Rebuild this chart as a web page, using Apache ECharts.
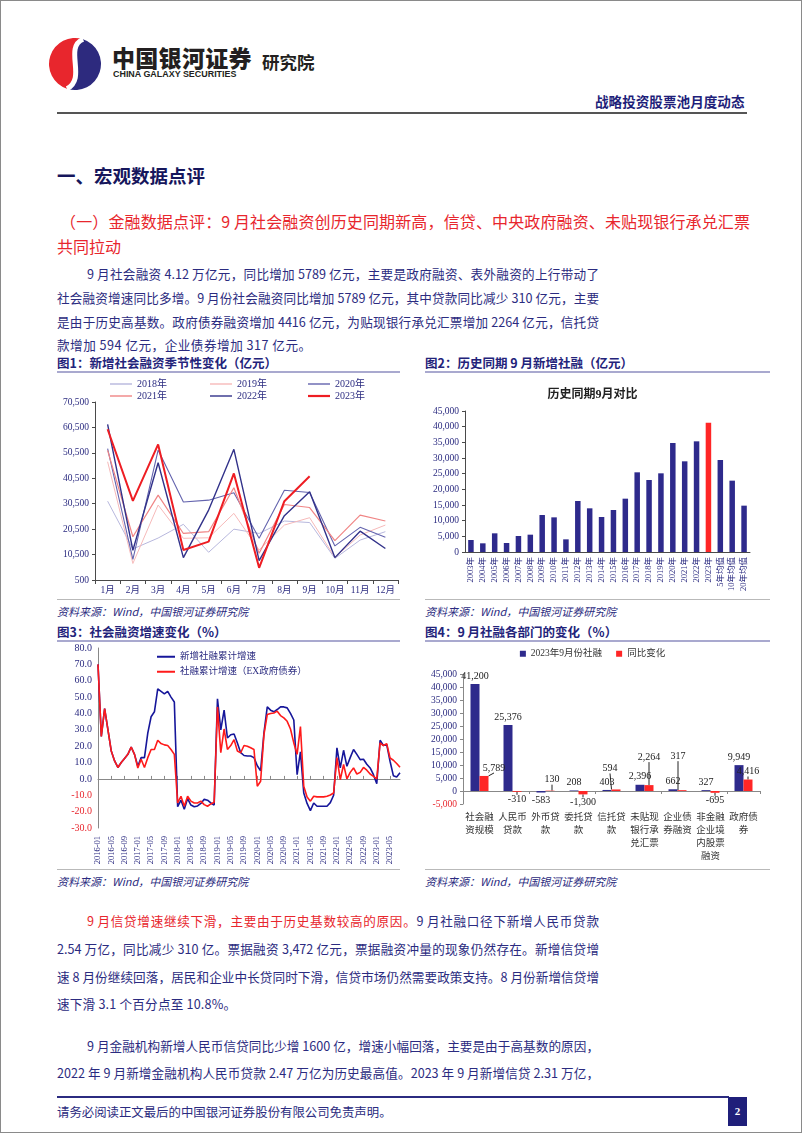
<!DOCTYPE html>
<html><head><meta charset="utf-8">
<script src="https://cdn.jsdelivr.net/npm/echarts/dist/echarts.min.js"></script>
<style>
body{margin:0;background:#fff;}
#page{position:relative;width:802px;height:1133px;overflow:hidden;font-family:"Noto Sans CJK SC","Noto Sans",sans-serif;background:#fff;}
#frame{position:absolute;left:0;top:0;width:800px;height:1131px;border:1px solid #8a8a8a;pointer-events:none;z-index:5;}
.abs{position:absolute;white-space:nowrap;}
.jl{position:absolute;white-space:nowrap;text-align:justify;text-align-last:justify;line-height:20px;height:20px;}
.body{font-size:12.6px;color:#2b2b80;}
.last{letter-spacing:0.5px;}
.figt{font-size:12.5px;font-weight:bold;color:#23237a;line-height:16px;}
.uline{position:absolute;height:2px;background:#a9a9cf;}
.src{font-size:11px;font-style:italic;color:#2b2b80;line-height:14px;}
.sline{position:absolute;height:1px;background:#b9b9b9;}
.chart{position:absolute;}
</style></head>
<body><div id="page">
<div id="frame"></div>

<!-- header -->
<svg class="abs" style="left:44px;top:34px" width="62" height="60" viewBox="0 0 60 60">
 <g transform="rotate(18 30 30)">
  <path d="M30,4 A26,26 0 0 0 30,56 C46,40 14,18 30,4 Z" fill="#e8262d"/>
  <path d="M30,4 A26,26 0 0 1 30,56 C46,40 14,18 30,4 Z" fill="#2d2a7e"/>
  <path d="M30,4 C14,18 46,40 30,56" stroke="#fff" stroke-width="5" fill="none"/>
 </g>
</svg>
<div class="abs" style="left:112px;top:44px;font-size:23px;font-weight:900;color:#231f20;line-height:26px;letter-spacing:0.3px">中国银河证券</div>
<div class="abs" style="left:113px;top:68px;font-size:9.6px;font-weight:bold;color:#231f20;line-height:11px;font-family:'Liberation Sans Narrow','Liberation Sans',sans-serif;transform:scaleX(0.93);transform-origin:left">CHINA GALAXY SECURITIES</div>
<div class="abs" style="left:262px;top:52px;font-size:17.5px;font-weight:bold;color:#231f20;line-height:20px">研究院</div>
<div class="abs" style="left:595px;top:93px;font-size:13.6px;font-weight:bold;color:#1f1f7a;line-height:16px">战略投资股票池月度动态</div>
<div class="abs" style="left:57px;top:112px;width:690px;height:2px;background:#555"></div>

<div class="abs" style="left:57px;top:164px;font-size:18.5px;font-weight:bold;color:#16165c;line-height:22px">一、宏观数据点评</div>
<div class="jl" style="left:60px;top:210px;width:690px;font-size:16px;color:#e8262d;line-height:22px;height:22px">（一）金融数据点评：9 月社会融资创历史同期新高，信贷、中央政府融资、未贴现银行承兑汇票</div>
<div class="abs" style="left:57px;top:235px;font-size:16px;color:#e8262d;line-height:22px">共同拉动</div>

<div class="jl body" style="left:87px;top:264px;width:512px">9 月社会融资 4.12 万亿元，同比增加 5789 亿元，主要是政府融资、表外融资的上行带动了</div>
<div class="jl body" style="left:57px;top:288px;width:542px">社会融资增速同比多增。9 月份社会融资同比增加 5789 亿元，其中贷款同比减少 310 亿元，主要</div>
<div class="jl body" style="left:57px;top:312px;width:542px">是由于历史高基数。政府债券融资增加 4416 亿元，为贴现银行承兑汇票增加 2264 亿元，信托贷</div>
<div class="abs body last" style="left:57px;top:335px;line-height:20px">款增加 594 亿元，企业债券增加 317 亿元。</div>

<!-- figure titles -->
<div class="abs figt" style="left:57px;top:355px">图1：新增社会融资季节性变化（亿元）</div>
<div class="uline" style="left:57px;top:371px;width:343px"></div>
<div class="abs figt" style="left:425px;top:355px">图2：历史同期 9 月新增社融（亿元）</div>
<div class="uline" style="left:425px;top:371px;width:345px"></div>

<div class="sline" style="left:57px;top:599px;width:343px"></div>
<div class="sline" style="left:425px;top:599px;width:345px"></div>
<div class="abs src" style="left:57px;top:604px">资料来源：Wind，中国银河证券研究院</div>
<div class="abs src" style="left:425px;top:604px">资料来源：Wind，中国银河证券研究院</div>

<div class="abs figt" style="left:57px;top:624px">图3：社会融资增速变化（%）</div>
<div class="uline" style="left:57px;top:640px;width:343px"></div>
<div class="abs figt" style="left:425px;top:624px">图4：9 月社融各部门的变化（%）</div>
<div class="uline" style="left:425px;top:640px;width:345px"></div>

<div class="sline" style="left:57px;top:869px;width:343px"></div>
<div class="sline" style="left:425px;top:869px;width:345px"></div>
<div class="abs src" style="left:57px;top:874px">资料来源：Wind，中国银河证券研究院</div>
<div class="abs src" style="left:425px;top:874px">资料来源：Wind，中国银河证券研究院</div>

<!-- charts -->
<div id="c1" class="chart" style="left:57px;top:375px;width:345px;height:225px"></div>
<div id="c2" class="chart" style="left:420px;top:375px;width:345px;height:225px"></div>
<div id="c3" class="chart" style="left:57px;top:636px;width:345px;height:240px"></div>
<div id="c4" class="chart" style="left:420px;top:644px;width:345px;height:232px"></div>

<!-- lower text -->
<div class="jl body" style="left:87px;top:911px;width:512px"><span style="color:#e8262d">9 月信贷增速继续下滑，主要由于历史基数较高的原因。</span>9 月社融口径下新增人民币贷款</div>
<div class="jl body" style="left:57px;top:939px;width:542px">2.54 万亿，同比减少 310 亿。票据融资 3,472 亿元，票据融资冲量的现象仍然存在。新增信贷增</div>
<div class="jl body" style="left:57px;top:967px;width:542px">速 8 月份继续回落，居民和企业中长贷同时下滑，信贷市场仍然需要政策支持。8 月份新增信贷增</div>
<div class="abs body" style="left:57px;top:994px;line-height:20px;letter-spacing:0.2px">速下滑 3.1 个百分点至 10.8%。</div>
<div class="jl body" style="left:87px;top:1036px;width:512px">9 月金融机构新增人民币信贷同比少增 1600 亿，增速小幅回落，主要是由于高基数的原因，</div>
<div class="jl body" style="left:57px;top:1063px;width:542px">2022 年 9 月新增金融机构人民币贷款 2.47 万亿为历史最高值。2023 年 9 月新增信贷 2.31 万亿，</div>

<div class="abs" style="left:57px;top:1096px;width:672px;height:2px;background:#2b2b80"></div>
<div class="abs" style="left:57px;top:1103px;font-size:12.4px;color:#2b2b80;line-height:18px">请务必阅读正文最后的中国银河证券股份有限公司免责声明。</div>
<div class="abs" style="left:728px;top:1097px;width:19px;height:29px;background:#1f1f7a;color:#fff;font-family:'Liberation Serif',serif;font-weight:bold;font-size:11px;line-height:29px;text-align:center">2</div>
</div>

<script>
// ---------------- data ----------------
const months = ['1月','2月','3月','4月','5月','6月','7月','8月','9月','10月','11月','12月'];
const y2018 = [31500,12700,17000,22400,11400,20500,18800,23700,23100,9000,16200,19500];
const y2019 = [47000,7000,30000,16900,17100,26700,12300,22100,25000,9400,18200,22100];
const y2020 = [52200,8600,51600,31200,31900,34800,16900,35800,34900,13900,21200,17300];
const y2021 = [51500,17500,33900,18800,19500,36800,11000,30200,29000,16000,26000,23700];
const y2022 = [61700,12200,46600,9300,28000,51900,8100,25800,35200,9300,19700,12900];
const y2023 = [59800,31600,53800,12300,15600,42400,5300,31500,41300];

const histCats = ['2003年','2004年','2005年','2006年','2007年','2008年','2009年','2010年','2011年','2012年','2013年','2014年','2015年','2016年','2017年','2018年','2019年','2020年','2021年','2022年','2023年','5年均值','10年均值','20年均值'];
const histVals = [3830,2770,5960,2870,5110,5530,11800,11060,4040,16280,13940,11170,13400,17020,25430,22980,25110,34790,28940,35320,41280,29360,22770,14790];

const growthStartYear = 2016;
const growthNew = [
 70,26,43,30,17,11,7,10,12.5,15,19.5,15,
 7.7,13,13,28,38,41,55,53.5,52,53.5,50,47,
 -17,-13,-18.5,-12,-16,-17,-16.5,-15,-12.5,-13,-14.7,-16,
 49,30,42,25,27,27.5,22,16,14.3,14,14,13,
 8,5,28,44,42,41,42.4,44,44,43.4,40,36,
 2.6,16.5,-8.6,-15,-19.4,-14.7,-16.7,-16.7,-16.7,-16.7,-14.5,-10,
 19,6.7,17.5,7.7,13,18,15,11.8,12,9,6.7,2.6,
 -2.9,23.6,20.4,21,10.8,2,1.2,3.7];
const growthEx = [
 70,26,43,30,17,11,7,10,12.5,15,19.5,15,
 6.7,12,7,13,18,18,23.6,21.6,20.8,20.4,18,15,
 -14.7,-10.6,-16.7,-10.6,-13.6,-14.7,-14.7,-13.6,-15.7,-16.7,-15.3,-14.3,
 44,16,30.5,18,20.4,24,17,16,20.4,20,19,18,
 -4.5,-1.4,27,39.3,40,40.3,41.4,38.7,37.3,35.2,30.5,22,
 15,32,-4.5,-11,-13.6,-10.6,-11,-11,-11,-10.6,-9.8,-8.6,
 13,-0.5,8.8,0,4,6.7,3,4,7,5.3,3,1.6,
 0,22,20.4,21.6,12.8,11.4,9.4,7.1];

const secCats = ['社会融\n资规模','人民币\n贷款','外币贷\n款','委托贷\n款','信托贷\n款','未贴现\n银行承\n兑汇票','企业债\n券融资','非金融\n企业境\n内股票\n融资','政府债\n券'];
const sec2023 = [41200,25376,-583,208,403,2396,662,327,9949];
const secYoy = [5789,-310,130,-1300,594,2264,317,-695,4416];

// ---------------- helpers ----------------
const NAVY = '#2b2b80';
const SERIF = "'Liberation Serif','Noto Sans CJK SC',serif";
const AXC = '#4a4a4a';
function fmt(v){ const s = String(Math.abs(v)).replace(/\B(?=(\d{3})+(?!\d))/g, ','); return (v<0?'-':'') + s; }
const gridBase = {containLabel:false, outerBoundsMode:'none'};

const dateCats = [];
for (let i = 0; i < growthNew.length; i++) {
  const y = growthStartYear + Math.floor(i/12), m = i%12 + 1;
  dateCats.push(y + '-' + (m<10?'0':'') + m);
}

// ---------------- chart 1 ----------------
const c1 = echarts.init(document.getElementById('c1'), null, {renderer:'canvas'});
const s1 = [
 ['2018年', y2018, '#b7b7dd', 1],
 ['2019年', y2019, '#f6b9b9', 1],
 ['2020年', y2020, '#6464ae', 1.1],
 ['2021年', y2021, '#f08585', 1.2],
 ['2022年', y2022, '#32328a', 1.4],
 ['2023年', y2023, '#ee1d23', 2]
];
const legPos = [[53,4],[153,4],[251,4],[53,16],[153,16],[251,16]];
c1.setOption({
  animation:false,
  grid:Object.assign({left:38,top:27,right:4,bottom:20}, gridBase),
  legend: s1.map((s,i)=>({data:[s[0]], left:legPos[i][0], top:legPos[i][1], icon:'rect', itemWidth:22, itemHeight:s[3]>1.5?2.2:1.4, itemGap:4, padding:0,
    textStyle:{fontFamily:SERIF, fontSize:10, color:NAVY}})),
  xAxis:{type:'category', data:months, boundaryGap:true,
    axisLine:{lineStyle:{color:AXC}}, axisTick:{show:true,length:4,lineStyle:{color:AXC}},
    axisLabel:{interval:0, fontFamily:SERIF, fontSize:9.5, color:NAVY, margin:6}},
  yAxis:{type:'value', min:500, max:70500, interval:10000,
    axisLine:{show:true,lineStyle:{color:AXC}}, axisTick:{show:true,length:3,lineStyle:{color:AXC}}, splitLine:{show:false},
    axisLabel:{fontFamily:SERIF, fontSize:9.5, color:NAVY, margin:6, formatter:v=>fmt(v)}},
  series: s1.map(s=>({name:s[0], type:'line', data:s[1], symbol:'none', lineStyle:{width:s[3], color:s[2]}, itemStyle:{color:s[2]}}))
});

// ---------------- chart 2 ----------------
const c2 = echarts.init(document.getElementById('c2'), null, {renderer:'canvas'});
c2.setOption({
  animation:false,
  title:{text:'历史同期9月对比', left:'center', top:9, textStyle:{fontFamily:SERIF, fontSize:12, fontWeight:'bold', color:'#222'}},
  grid:Object.assign({left:45,top:36,right:15,bottom:48}, gridBase),
  xAxis:{type:'category', data:histCats,
    axisLine:{lineStyle:{color:AXC}}, axisTick:{show:false},
    axisLabel:{interval:0, rotate:90, fontFamily:SERIF, fontSize:8.5, color:NAVY, margin:5}},
  yAxis:{type:'value', min:0, max:45000, interval:5000,
    axisLine:{show:true,lineStyle:{color:AXC}}, axisTick:{show:true,length:3,lineStyle:{color:AXC}}, splitLine:{show:false},
    axisLabel:{fontFamily:SERIF, fontSize:9.5, color:NAVY, margin:6, formatter:v=>fmt(v)}},
  series:[{type:'bar', barWidth:5.5,
    data: histVals.map((v,i)=>({value:v, itemStyle:{color: histCats[i]==='2023年' ? '#ff2626' : '#2e2a8c'}}))}]
});

// ---------------- chart 3 ----------------
const c3 = echarts.init(document.getElementById('c3'), null, {renderer:'canvas'});
c3.setOption({
  animation:false,
  grid:Object.assign({left:41,top:12,right:2,bottom:48}, gridBase),
  legend:[
    {data:['新增社融累计增速'], left:100, top:16, icon:'rect', itemWidth:18, itemHeight:2, itemGap:4, padding:0, textStyle:{fontFamily:SERIF,fontSize:9.5,color:NAVY}},
    {data:['社融累计增速（EX政府债券）'], left:100, top:31, icon:'rect', itemWidth:18, itemHeight:2, itemGap:4, padding:0, textStyle:{fontFamily:SERIF,fontSize:9.5,color:NAVY}}
  ],
  xAxis:[
    {type:'category', data:dateCats, boundaryGap:false, position:'bottom',
      axisLine:{show:false, onZero:false}, axisTick:{show:false},
      axisLabel:{interval:3, rotate:90, fontFamily:SERIF, fontSize:8.5, color:NAVY, margin:8}},
    {type:'category', data:dateCats, boundaryGap:false, position:'top',
      axisLine:{show:true, onZero:true, lineStyle:{color:'#888'}}, axisTick:{show:true, interval:3, length:3, lineStyle:{color:'#888'}},
      axisLabel:{show:false}}
  ],
  yAxis:{type:'value', min:-30, max:80, interval:10,
    axisLine:{show:true,lineStyle:{color:'#888'}}, axisTick:{show:false}, splitLine:{show:false},
    axisLabel:{fontFamily:SERIF, fontSize:10, margin:6,
      formatter:v=> v<0 ? '{r|'+v.toFixed(1)+'}' : '{b|'+v.toFixed(1)+'}',
      rich:{r:{color:'#e8262d',fontFamily:SERIF,fontSize:10}, b:{color:NAVY,fontFamily:SERIF,fontSize:10}}}},
  series:[
    {name:'新增社融累计增速', type:'line', data:growthNew, symbol:'none', lineStyle:{width:1.6,color:'#16169a'}, itemStyle:{color:'#16169a'}},
    {name:'社融累计增速（EX政府债券）', type:'line', data:growthEx, symbol:'none', lineStyle:{width:1.6,color:'#ff1a1a'}, itemStyle:{color:'#ff1a1a'}}
  ]
});

// ---------------- chart 4 ----------------
const c4 = echarts.init(document.getElementById('c4'), null, {renderer:'canvas'});
const yoyShift = {0:{dx:10,dy:0}, 2:{dx:2,dy:-3}, 4:{dx:-6,dy:-13}, 5:{dx:0,dy:-20}, 6:{dx:-4,dy:-26}};
c4.setOption({
  animation:false,
  grid:Object.assign({left:43,top:30,right:5,bottom:72}, gridBase),
  legend:{data:['2023年9月份社融','同比变化'], left:'center', top:5, icon:'rect', itemWidth:6, itemHeight:6, itemGap:14, padding:0,
    textStyle:{fontFamily:SERIF,fontSize:9.5,color:'#333'}},
  xAxis:[
    {type:'category', data:secCats, position:'bottom',
      axisLine:{show:false, onZero:false}, axisTick:{show:false},
      axisLabel:{interval:0, fontFamily:SERIF, fontSize:9.5, lineHeight:13, color:'#333', margin:7, verticalAlign:'top'}},
    {type:'category', data:secCats, position:'top',
      axisLine:{show:true, onZero:true, lineStyle:{color:'#888'}}, axisTick:{show:true, inside:true, length:3, lineStyle:{color:'#888'}},
      axisLabel:{show:false}}
  ],
  yAxis:{type:'value', min:-5000, max:45000, interval:5000,
    axisLine:{show:true,lineStyle:{color:'#888'}}, axisTick:{show:true,length:3,lineStyle:{color:'#888'}}, splitLine:{show:false},
    axisLabel:{fontFamily:SERIF, fontSize:9.5, margin:6,
      formatter:v=> v<0 ? '{r|'+fmt(v)+'}' : '{b|'+fmt(v)+'}',
      rich:{r:{color:'#e8262d',fontFamily:SERIF,fontSize:9.5}, b:{color:NAVY,fontFamily:SERIF,fontSize:9.5}}}},
  series:[
    {name:'2023年9月份社融', type:'bar', barWidth:9, barGap:'0%', itemStyle:{color:'#2e2a8c'},
      data: sec2023.map(v=>({value:v, label:{position: v<0?'bottom':'top'}})),
      label:{show:true, fontFamily:SERIF, fontSize:10, color:'#222', distance:3, formatter:p=>fmt(p.value)}},
    {name:'同比变化', type:'bar', barWidth:9, barGap:'0%', itemStyle:{color:'#ff2626'},
      data: secYoy.map(v=>({value:v, label:{position: v<0?'bottom':'top'}})),
      label:{show:true, fontFamily:SERIF, fontSize:10, color:'#222', distance:3, formatter:p=>fmt(p.value)},
      labelLine:{show:true, lineStyle:{color:'#222', width:1}},
      labelLayout: p => yoyShift[p.dataIndex] || {}}
  ]
});
</script>
</body></html>
